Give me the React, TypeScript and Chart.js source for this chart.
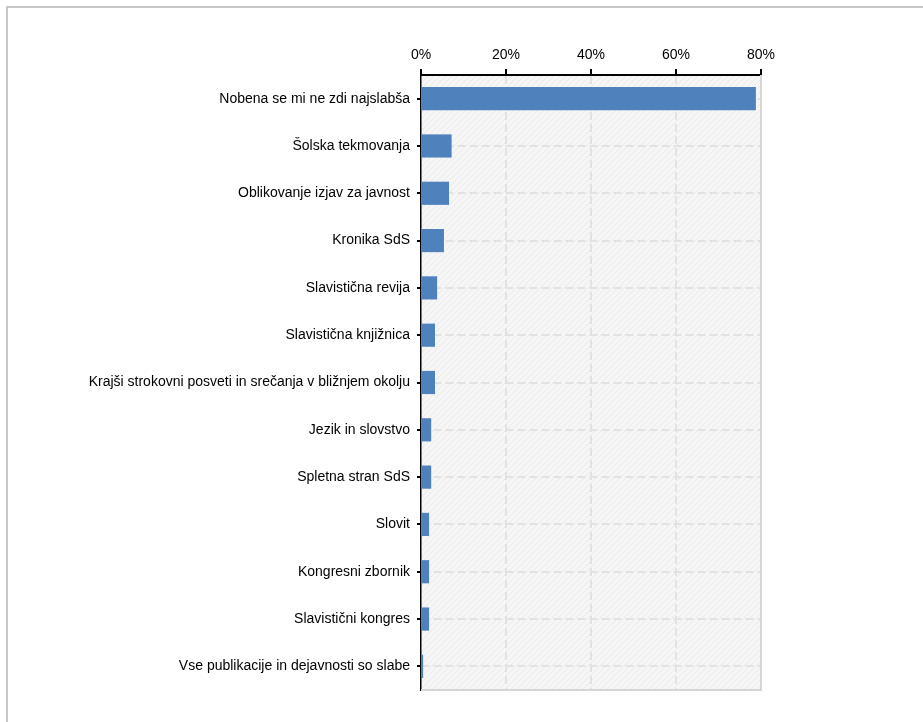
import React, { useEffect, useRef } from "react";
import { Chart, registerables } from "chart.js";

Chart.register(...registerables);

const categories: string[] = [
  "Nobena se mi ne zdi najslabša",
  "Šolska tekmovanja",
  "Oblikovanje izjav za javnost",
  "Kronika SdS",
  "Slavistična revija",
  "Slavistična knjižnica",
  "Krajši strokovni posveti in srečanja v bližnjem okolju",
  "Jezik in slovstvo",
  "Spletna stran SdS",
  "Slovit",
  "Kongresni zbornik",
  "Slavistični kongres",
  "Vse publikacije in dejavnosti so slabe",
];

const values: number[] = [78.8, 7.2, 6.6, 5.4, 3.8, 3.3, 3.3, 2.4, 2.4, 1.9, 1.9, 1.9, 0.5];

const xTicks: number[] = [0, 20, 40, 60, 80];

const FONT = "'Liberation Sans', Arial, sans-serif";

export default function App() {
  const canvasRef = useRef<HTMLCanvasElement | null>(null);

  useEffect(() => {
    const canvas = canvasRef.current;
    if (!canvas) return;

    const pc = document.createElement("canvas");
    pc.width = 6;
    pc.height = 6;
    const pctx = pc.getContext("2d")!;
    pctx.fillStyle = "#f6f6f6";
    pctx.fillRect(0, 0, 6, 6);
    pctx.strokeStyle = "#e9e9e9";
    pctx.lineWidth = 1;
    pctx.beginPath();
    pctx.moveTo(0, 6);
    pctx.lineTo(6, 0);
    pctx.moveTo(-3, 3);
    pctx.lineTo(3, -3);
    pctx.moveTo(3, 9);
    pctx.lineTo(9, 3);
    pctx.stroke();

    const bgPlugin = {
      id: "plotBg",
      beforeDraw(chart: any) {
        const { ctx, chartArea } = chart;
        if (!chartArea) return;
        ctx.save();
        const pat = ctx.createPattern(pc, "repeat");
        ctx.fillStyle = pat || "#f3f3f3";
        ctx.fillRect(chartArea.left, chartArea.top, chartArea.right - chartArea.left, chartArea.bottom - chartArea.top);
        ctx.restore();
      },
      afterDatasetsDraw(chart: any) {
        const { ctx, chartArea } = chart;
        ctx.save();
        ctx.strokeStyle = "#d6d6d6";
        ctx.lineWidth = 2;
        ctx.beginPath();
        ctx.moveTo(chartArea.right, chartArea.top);
        ctx.lineTo(chartArea.right, chartArea.bottom);
        ctx.lineTo(chartArea.left, chartArea.bottom);
        ctx.stroke();
        ctx.restore();
      },
    };

    const chart = new Chart(canvas, {
      type: "bar",
      data: {
        labels: categories,
        datasets: [
          {
            data: values,
            backgroundColor: "#4f81bd",
            borderWidth: 0,
            barPercentage: 0.49,
            categoryPercentage: 1,
          },
        ],
      },
      plugins: [bgPlugin],
      options: {
        indexAxis: "y",
        responsive: false,
        animation: false,
        layout: { padding: { left: 0, top: 0, right: 162, bottom: 32 } },
        plugins: {
          legend: { display: false },
          tooltip: { enabled: false },
        },
        scales: {
          x: {
            position: "top",
            min: 0,
            max: 80,
            afterFit(scale: any) {
              scale.height = 75;
            },
            afterBuildTicks(scale: any) {
              scale.ticks = xTicks.map((v) => ({ value: v }));
            },
            ticks: {
              padding: 5,
              color: "#000",
              font: { family: FONT, size: 14 },
              callback: (v: any) => v + "%",
              maxRotation: 0,
            },
            grid: {
              color: (c: any) => (c.tick && (c.tick.value === 0 || c.tick.value === 80) ? "rgba(0,0,0,0)" : "#e2e2e2"),
              lineWidth: 2,
              tickColor: "#000",
              tickLength: 6,
              tickWidth: 2,
              tickBorderDash: [],
              drawTicks: true,
            },
            border: { display: true, color: "#000", width: 2, dash: [8, 4] },
          },
          y: {
            afterFit(scale: any) {
              scale.width = 421;
            },
            ticks: {
              padding: 7,
              color: "#000",
              font: { family: FONT, size: 14 },
              autoSkip: false,
            },
            grid: {
              offset: false,
              color: "#e2e2e2",
              lineWidth: 2,
              tickColor: "#000",
              tickLength: 4,
              tickWidth: 2,
              tickBorderDash: [],
            },
            border: { display: true, color: "#000", width: 1.5, dash: [8, 4] },
          },
        },
      },
    });

    return () => chart.destroy();
  }, []);

  return (
    <div
      style={{
        position: "absolute",
        left: 0,
        top: 0,
        width: 923,
        height: 722,
        overflow: "hidden",
        background: "#fff",
      }}
    >
      <div
        style={{
          position: "absolute",
          left: 6,
          top: 6,
          width: 1200,
          height: 1200,
          borderLeft: "2px solid #c8c8c8",
          borderTop: "2px solid #c8c8c8",
        }}
      />
      <canvas
        ref={canvasRef}
        width={923}
        height={722}
        style={{ position: "absolute", left: 0, top: 0, width: 923, height: 722 }}
      />
    </div>
  );
}
